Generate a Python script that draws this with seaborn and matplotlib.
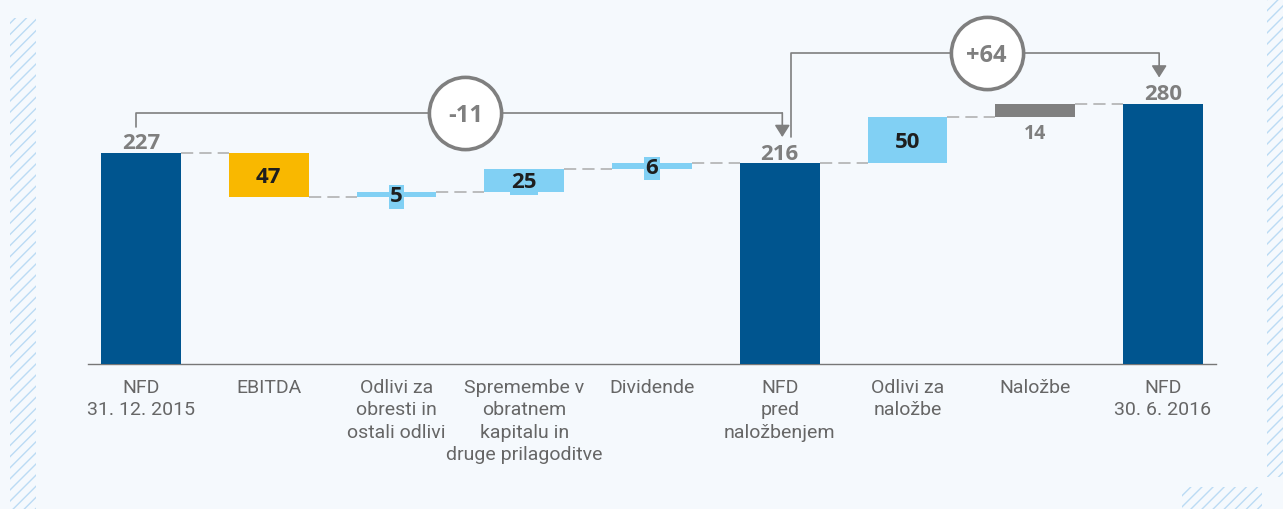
import matplotlib
matplotlib.use("Agg")
import matplotlib.pyplot as plt
import seaborn as sns
from matplotlib.patches import Rectangle

# --- data -------------------------------------------------------------
categories = [
    "NFD\n31. 12. 2015",
    "EBITDA",
    "Odlivi za\nobresti in\nostali odlivi",
    "Spremembe v\nobratnem\nkapitalu in\ndruge prilagoditve",
    "Dividende",
    "NFD\npred\nnaložbenjem",
    "Odlivi za\nnaložbe",
    "Naložbe",
    "NFD\n30. 6. 2016",
]
values = [227, -47, 5, 25, 6, 216, 50, 14, 280]
is_total = [True, False, False, False, False, True, False, False, True]
# change brackets drawn above the bars: (from bar, to bar)
brackets = [(0, 5), (5, 8)]

# --- style ------------------------------------------------------------
BG = "#F5F9FD"
GRAY = "#7F7F7F"
TEXT_GRAY = "#666666"
DARK = "#1E1E1E"
HATCH = "#BBDBF4"
bar_colors = ["#00558F", "#F9B800", "#81D0F4", "#81D0F4", "#81D0F4",
              "#00558F", "#81D0F4", "#808080", "#00558F"]
label_place = ["above", "inside", "inside", "inside", "inside",
               "above", "inside", "below", "above"]
BAR_W = 0.626
BRACKET_LEVELS = [270, 334]
BRACKET_DX = [(-0.04, 0.02), (0.09, -0.03)]
CIRCLE_X = [2.54, 6.62]
CLEAR = 28
NARROW = ["Liberation Sans Narrow", "Roboto", "DejaVu Sans"]

sns.set_theme(style="white")
plt.rcParams["font.family"] = ["Open Sans", "DejaVu Sans"]
plt.rcParams["hatch.linewidth"] = 1.0

# running totals -> bar bottoms / heights
bottoms, heights, levels = [], [], []
level = 0
for v, tot in zip(values, is_total):
    if tot:
        bottoms.append(0)
        heights.append(v)
        level = v
    else:
        new = level + v
        bottoms.append(min(level, new))
        heights.append(abs(v))
        level = new
    levels.append(level)
tops = [b + h for b, h in zip(bottoms, heights)]

fig = plt.figure(figsize=(12.83, 5.09), dpi=100, facecolor=BG)
ax = fig.add_axes([88 / 1283, 145 / 509, 1128 / 1283, 364 / 509])
ax.set_facecolor(BG)

sns.barplot(x=categories, y=heights, hue=categories, hue_order=categories,
            palette=bar_colors, saturation=1, width=BAR_W, linewidth=0,
            legend=False, ax=ax, zorder=3)
for patch, b in zip(ax.patches, bottoms):
    patch.set_y(b)

ax.set_xlim(-0.415, 8.415)
ax.set_ylim(0, 391.4)

# dashed connectors between bars
for i in range(len(values) - 1):
    ax.plot([i + BAR_W / 2, i + 1 - BAR_W / 2], [levels[i], levels[i]],
            color="#ABABAB", lw=1.1, dashes=(8, 4), zorder=2)

# value labels
for i, (v, place) in enumerate(zip(values, label_place)):
    txt = str(abs(v))
    if place == "above":
        ax.annotate(txt, (i, tops[i]), xytext=(0, -1), textcoords="offset points",
                    ha="center", va="bottom", fontsize=16, fontweight="bold",
                    color=GRAY, zorder=6)
    elif place == "below":
        ax.annotate(txt, (i, bottoms[i]), xytext=(0, -5), textcoords="offset points",
                    ha="center", va="top", fontsize=14, fontweight="bold",
                    color=GRAY, zorder=6)
    else:
        ax.text(i, bottoms[i] + heights[i] / 2, txt, ha="center", va="center_baseline",
                fontsize=16, fontweight="bold", color=DARK, zorder=6,
                bbox=dict(boxstyle="square,pad=0.06", fc=bar_colors[i], ec="none"))

# change brackets with circled difference
for (a, b), lvl, (dxa, dxb), cx in zip(brackets, BRACKET_LEVELS, BRACKET_DX, CIRCLE_X):
    xa, xb = a + dxa, b + dxb
    ya, yb = tops[a] + CLEAR, tops[b] + CLEAR
    ax.plot([xa, xa, xb], [ya, lvl, lvl], color=GRAY, lw=1.2, zorder=4)
    ax.annotate("", xy=(xb, yb), xytext=(xb, lvl),
                arrowprops=dict(arrowstyle="-|>,head_length=0.6,head_width=0.38",
                                color=GRAY, lw=1.2, shrinkA=0, shrinkB=0), zorder=4)
    ax.plot(cx, lvl, "o", ms=52, mfc="white", mec=GRAY, mew=2.6, zorder=5)
    ax.text(cx, lvl, f"{values[b] - values[a]:+d}", ha="center", va="center_baseline",
            fontsize=17, fontweight="bold", color=GRAY, zorder=6)

# axes styling
sns.despine(ax=ax, left=True)
ax.spines["bottom"].set_color("#777777")
ax.spines["bottom"].set_linewidth(1.0)
ax.set_yticks([])
ax.set_xlabel("")
ax.set_ylabel("")
ax.tick_params(axis="x", length=0, pad=11)
for lab in ax.get_xticklabels():
    lab.set_family(NARROW)
    lab.set_fontsize(14)
    lab.set_color(TEXT_GRAY)
    lab.set_linespacing(1.3)

# decorative hatched strips
for x0, y0, w, h in [(10, 0, 26, 491), (1267, 32, 16, 477), (1182, 0, 80, 22)]:
    fig.add_artist(Rectangle((x0 / 1283, y0 / 509), w / 1283, h / 509,
                             transform=fig.transFigure, fill=False, hatch="///",
                             edgecolor=HATCH, lw=0))

fig.savefig("out.png", dpi=100, facecolor=BG)
